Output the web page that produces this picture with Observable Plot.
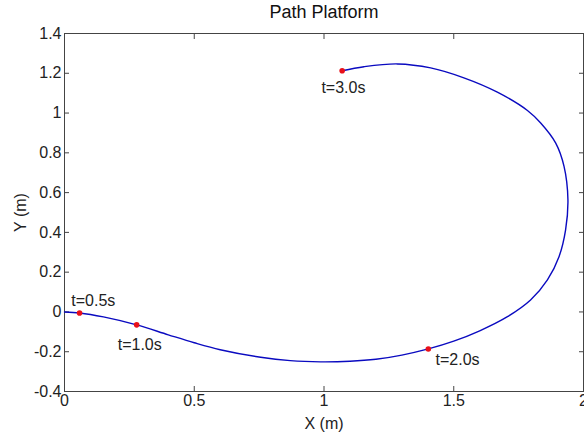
<!DOCTYPE html>
<html>
<head>
<meta charset="utf-8">
<script src="https://cdn.jsdelivr.net/npm/d3@7"></script>
<script src="https://cdn.jsdelivr.net/npm/@observablehq/plot@0.6"></script>
<style>
  html, body { margin: 0; padding: 0; background: #fff; }
</style>
</head>
<body>
<div id="chart"></div>
<script>
// Path of the platform (X, Y in metres)
const pathX = [0, 0.058, 0.15, 0.278, 0.4, 0.5, 0.6, 0.756, 0.87, 0.987, 1.1, 1.2, 1.3, 1.402, 1.5, 1.6, 1.707, 1.796, 1.861, 1.906, 1.931, 1.940, 1.925, 1.893, 1.835, 1.784, 1.668, 1.539, 1.411, 1.283, 1.154, 1.070];
const pathY = [0, -0.005, -0.025, -0.065, -0.115, -0.155, -0.19, -0.228, -0.245, -0.251, -0.248, -0.238, -0.217, -0.186, -0.147, -0.095, -0.024, 0.060, 0.161, 0.279, 0.413, 0.564, 0.732, 0.849, 0.950, 1.013, 1.105, 1.177, 1.227, 1.247, 1.233, 1.213];

// Time markers
const markTime = ["t=0.5s", "t=1.0s", "t=2.0s", "t=3.0s"];
const markX = [0.058, 0.278, 1.402, 1.070];
const markY = [-0.005, -0.065, -0.186, 1.213];
// Text anchor points (data units, like MATLAB text())
const labelX = [0.026, 0.205, 1.430, 0.990];
const labelY = [0.055, -0.168, -0.240, 1.125];

const xTicks = [0, 0.5, 1, 1.5, 2];
const yTicks = [-0.4, -0.2, 0, 0.2, 0.4, 0.6, 0.8, 1, 1.2, 1.4];

const titleText = "Path Platform";
const xLabel = "X (m)";
const yLabel = "Y (m)";

const path = pathX.map((x, i) => ({x, y: pathY[i]}));
const marks = markTime.map((t, i) => ({t, x: markX[i], y: markY[i], lx: labelX[i], ly: labelY[i]}));
const fmt = d => String(+d.toFixed(1));

const axisColor = "#444";
const font = "Liberation Sans, Arial, Helvetica, sans-serif";

const chart = Plot.plot({
  width: 584,
  height: 441,
  marginLeft: 64,
  marginRight: 1,
  marginTop: 33,
  marginBottom: 50,
  style: {fontFamily: font, fontSize: "16px", color: "#222", background: "#fff", overflow: "visible"},
  x: {domain: [0, 2]},
  y: {domain: [-0.4, 1.4]},
  marks: [
    Plot.frame({stroke: axisColor}),
    // tick labels
    Plot.axisX(xTicks, {anchor: "bottom", tickSize: 0, tickPadding: 3, tickFormat: fmt, fontSize: 16, fill: "#222", label: null}),
    Plot.axisY(yTicks, {anchor: "left", tickSize: 0, tickPadding: 3, tickFormat: fmt, fontSize: 16, fill: "#222", label: null}),
    // inward ticks on all sides
    Plot.axisX(xTicks, {anchor: "bottom", tickSize: -5, text: null, stroke: axisColor, label: null}),
    Plot.axisX(xTicks, {anchor: "top", tickSize: -5, text: null, stroke: axisColor, label: null}),
    Plot.axisY(yTicks, {anchor: "left", tickSize: -5, text: null, stroke: axisColor, label: null}),
    Plot.axisY(yTicks, {anchor: "right", tickSize: -5, text: null, stroke: axisColor, label: null}),
    // path
    Plot.line(path, {x: "x", y: "y", stroke: "#0a0ac0", strokeWidth: 1.4, curve: "catmull-rom"}),
    Plot.dot(marks, {x: "x", y: "y", r: 2.8, fill: "#e8101a", stroke: "none"}),
    Plot.text(marks, {x: "lx", y: "ly", text: "t", textAnchor: "start", fontSize: 16, fill: "#222"}),
    // title & axis labels
    Plot.text([titleText], {frameAnchor: "top", dy: -21, lineAnchor: "middle", textAnchor: "middle", fontSize: 18, fill: "#111"}),
    Plot.text([xLabel], {frameAnchor: "bottom", dy: 32, lineAnchor: "middle", textAnchor: "middle", fontSize: 16, fill: "#222"}),
    Plot.text([yLabel], {frameAnchor: "left", dx: -44, rotate: -90, lineAnchor: "middle", textAnchor: "middle", fontSize: 16, fill: "#222"})
  ]
});
document.getElementById("chart").appendChild(chart);
</script>
</body>
</html>
